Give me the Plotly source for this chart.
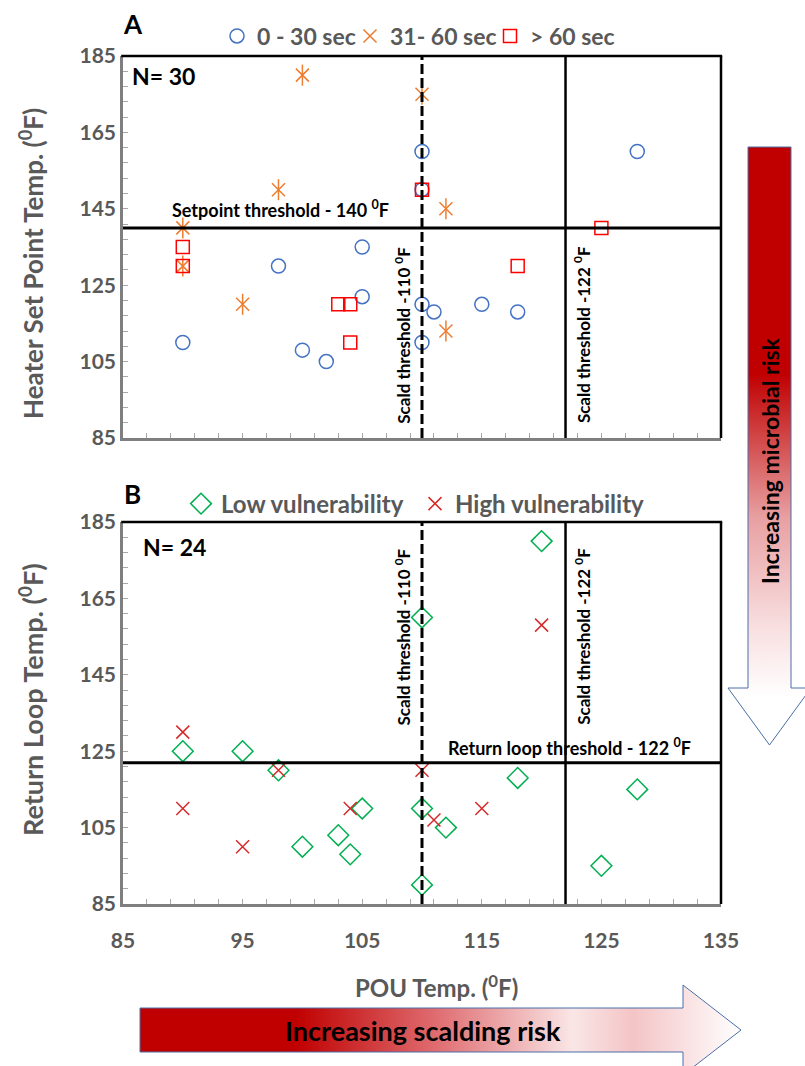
import plotly.graph_objects as go

# ---------------- data ----------------
# Panel A: POU temp (x) vs heater set point temp (y), grouped by time-to-temperature
a_fast_x = [90, 98, 100, 102, 105, 105, 110, 110, 110, 111, 110, 115, 118, 128]
a_fast_y = [110, 130, 108, 105, 135, 122, 160, 150, 120, 118, 110, 120, 118, 160]
a_mid_x = [90, 90, 95, 98, 100, 110, 112, 112]
a_mid_y = [140, 130, 120, 150, 180, 175, 145, 113]
a_slow_x = [90, 90, 103, 104, 104, 110, 118, 125]
a_slow_y = [135, 130, 120, 120, 110, 150, 130, 140]

# Panel B: POU temp (x) vs return loop temp (y), grouped by vulnerability
b_low_x = [90, 95, 98, 100, 103, 104, 105, 110, 110, 110, 112, 118, 120, 125, 128]
b_low_y = [125, 125, 120, 100, 103, 98, 110, 160, 110, 90, 105, 118, 180, 95, 115]
b_high_x = [90, 90, 95, 98, 104, 110, 111, 115, 120]
b_high_y = [130, 110, 100, 120, 110, 120, 107, 110, 158]

series_a_names = ["0 - 30 sec", "31- 60 sec", "> 60 sec"]
series_b_names = ["Low vulnerability", "High vulnerability"]

x_range = [85, 135]
y_range = [85, 185]
x_tick_vals = [85, 95, 105, 115, 125, 135]
y_tick_vals = [85, 105, 125, 145, 165, 185]

scald_low = 110
scald_high = 122
setpoint_thr = 140
return_thr = 122

# ---------------- styling ----------------
W, H = 805, 1066
FONT = "Lato"
GRAY = "#595959"
AXIS_GRAY = "#7F7F7F"

def px_x(p):
    return p / W

def px_y(p):
    return 1 - p / H

fig = go.Figure()

# Panel A traces
fig.add_trace(go.Scatter(x=a_fast_x, y=a_fast_y, mode="markers", name=series_a_names[0],
                         marker=dict(symbol="circle-open", size=14, color="#4472C4", line=dict(width=1.5)),
                         xaxis="x", yaxis="y", legend="legend"))
fig.add_trace(go.Scatter(x=a_mid_x, y=a_mid_y, mode="markers", name=series_a_names[1],
                         marker=dict(symbol="x-thin-open", size=13, color="#ED7D31", line=dict(width=1.5, color="#ED7D31")),
                         xaxis="x", yaxis="y", legend="legend2", legendgroup="mid"))
fig.add_trace(go.Scatter(x=a_mid_x, y=a_mid_y, mode="markers", name=series_a_names[1], showlegend=False,
                         marker=dict(symbol="line-ns-open", size=15, color="#ED7D31", line=dict(width=1.5, color="#ED7D31")),
                         xaxis="x", yaxis="y", legend="legend2", legendgroup="mid"))
fig.add_trace(go.Scatter(x=a_slow_x, y=a_slow_y, mode="markers", name=series_a_names[2],
                         marker=dict(symbol="square-open", size=13, color="#FF0000", line=dict(width=1.5)),
                         xaxis="x", yaxis="y", legend="legend3"))

# Panel B traces
fig.add_trace(go.Scatter(x=b_low_x, y=b_low_y, mode="markers", name=series_b_names[0],
                         marker=dict(symbol="diamond-open", size=16, color="#00B050", line=dict(width=1.5)),
                         xaxis="x2", yaxis="y2", legend="legend4"))
fig.add_trace(go.Scatter(x=b_high_x, y=b_high_y, mode="markers", name=series_b_names[1],
                         marker=dict(symbol="x-thin-open", size=13, color="#D62A2A", line=dict(width=1.5, color="#D62A2A")),
                         xaxis="x2", yaxis="y2", legend="legend5"))

# Decorative gradient arrows (pixel-space overlay axis)
fig.add_trace(go.Scatter(
    x=[748, 791, 791, 811, 769.5, 728, 748, 748],
    y=[147, 147, 688, 688, 745, 688, 688, 147],
    mode="lines", fill="toself", line=dict(color="#4A6FA8", width=1),
    fillgradient=dict(type="vertical", start=147, stop=745,
                      colorscale=[[0, "#C00000"], [0.38, "#C00000"], [0.62, "#E8A0A2"],
                                  [0.8, "#F8DEDF"], [0.92, "#FFFFFF"], [1, "#FFFFFF"]]),
    xaxis="x3", yaxis="y3", showlegend=False, hoverinfo="skip"))
fig.add_trace(go.Scatter(
    x=[140, 683, 683, 741, 683, 683, 140, 140],
    y=[1008, 1008, 985, 1030, 1075, 1052, 1052, 1008],
    mode="lines", fill="toself", line=dict(color="#4A6FA8", width=1),
    fillgradient=dict(type="horizontal", start=140, stop=741,
                      colorscale=[[0, "#C00000"], [0.26, "#C00000"], [0.5, "#E07074"],
                                  [0.72, "#FAE6E6"], [0.82, "#F4C4C6"], [1, "#FFFFFF"]]),
    xaxis="x3", yaxis="y3", showlegend=False, hoverinfo="skip"))

tickfont = dict(family=FONT, size=21, color=GRAY, weight="bold")

def xaxis_cfg(anchor, show_labels):
    return dict(domain=[px_x(123), px_x(721)], range=x_range, anchor=anchor,
                tickmode="array", tickvals=x_tick_vals, showticklabels=show_labels,
                ticks="inside", ticklen=5, tickwidth=1, tickcolor="#A6A6A6",
                minor=dict(dtick=2, tick0=85, ticks="inside", ticklen=5, tickwidth=1,
                           tickcolor="#A6A6A6", showgrid=False),
                showline=True, linecolor=AXIS_GRAY, linewidth=2.5, automargin=False,
                showgrid=False, zeroline=False, tickfont=tickfont, ticklabelstandoff=16)

def yaxis_cfg(anchor, dom):
    return dict(domain=dom, range=y_range, anchor=anchor,
                tickmode="array", tickvals=y_tick_vals,
                ticks="inside", ticklen=5, tickwidth=1, tickcolor="#A6A6A6",
                minor=dict(dtick=4, tick0=85, ticks="inside", ticklen=5, tickwidth=1,
                           tickcolor="#A6A6A6", showgrid=False),
                showline=True, linecolor=AXIS_GRAY, linewidth=2.5, automargin=False,
                showgrid=False, zeroline=False, tickfont=tickfont, ticklabelstandoff=0)

shapes = []
for xr, yr in [("x", "y"), ("x2", "y2")]:
    # top and right black borders
    shapes.append(dict(type="line", xref=f"{xr} domain", yref=f"{yr} domain",
                       x0=-0.003, x1=1.002, y0=1, y1=1, line=dict(color="black", width=2.5)))
    shapes.append(dict(type="line", xref=f"{xr} domain", yref=f"{yr} domain",
                       x0=1, x1=1, y0=0, y1=1, line=dict(color="black", width=2.5)))
    # scald thresholds
    shapes.append(dict(type="line", xref=xr, yref=f"{yr} domain",
                       x0=scald_low, x1=scald_low, y0=0, y1=1,
                       line=dict(color="black", width=3, dash="10px,4px")))
    shapes.append(dict(type="line", xref=xr, yref=f"{yr} domain",
                       x0=scald_high, x1=scald_high, y0=0, y1=1,
                       line=dict(color="black", width=2.5)))
shapes.append(dict(type="line", xref="x domain", yref="y", x0=0, x1=1,
                   y0=setpoint_thr, y1=setpoint_thr, line=dict(color="black", width=3)))
shapes.append(dict(type="line", xref="x2 domain", yref="y2", x0=0, x1=1,
                   y0=return_thr, y1=return_thr, line=dict(color="black", width=3)))

h_font = dict(family=FONT, size=18, color="black", weight="bold")
v_font = dict(family=FONT, size=17, color="black", weight="bold")
annotations = [
    dict(text="Setpoint threshold - 140 <sup>0</sup>F", xref="x", yref="y", x=98.2, y=144.9,
         showarrow=False, font=h_font, xanchor="center", yanchor="middle"),
    dict(text="Return loop threshold - 122 <sup>0</sup>F", xref="x2", yref="y2", x=122.3, y=126.1,
         showarrow=False, font=h_font, xanchor="center", yanchor="middle"),
    dict(text="Scald threshold -110 <sup>0</sup>F", xref="x", yref="y", x=108.4, y=112,
         showarrow=False, font=v_font, textangle=-90, xanchor="center", yanchor="middle"),
    dict(text="Scald threshold -122 <sup>0</sup>F", xref="x", yref="y", x=123.4, y=112,
         showarrow=False, font=v_font, textangle=-90, xanchor="center", yanchor="middle"),
    dict(text="Scald threshold -110 <sup>0</sup>F", xref="x2", yref="y2", x=108.4, y=155,
         showarrow=False, font=v_font, textangle=-90, xanchor="center", yanchor="middle"),
    dict(text="Scald threshold -122 <sup>0</sup>F", xref="x2", yref="y2", x=123.4, y=155,
         showarrow=False, font=v_font, textangle=-90, xanchor="center", yanchor="middle"),
    dict(text="N= 30", xref="x", yref="y", x=85.6, y=179.8, xanchor="left", yanchor="middle",
         showarrow=False, font=dict(family=FONT, size=23, color="black", weight="bold")),
    dict(text="N= 24", xref="x2", yref="y2", x=86.5, y=178.5, xanchor="left", yanchor="middle",
         showarrow=False, font=dict(family=FONT, size=23, color="black", weight="bold")),
    dict(text="A", xref="paper", yref="paper", x=px_x(121), y=px_y(24), xanchor="left", yanchor="middle",
         showarrow=False, font=dict(family=FONT, size=26, color="black", weight="bold")),
    dict(text="B", xref="paper", yref="paper", x=px_x(122), y=px_y(494), xanchor="left", yanchor="middle",
         showarrow=False, font=dict(family=FONT, size=26, color="black", weight="bold")),
    dict(text="Heater Set Point Temp. (<sup>0</sup>F)", xref="paper", yref="paper",
         x=px_x(31), y=px_y(264), textangle=-90, showarrow=False, xanchor="center", yanchor="middle",
         font=dict(family=FONT, size=26, color=GRAY, weight="bold")),
    dict(text="Return Loop Temp. (<sup>0</sup>F)", xref="paper", yref="paper",
         x=px_x(31), y=px_y(700), textangle=-90, showarrow=False, xanchor="center", yanchor="middle",
         font=dict(family=FONT, size=27, color=GRAY, weight="bold")),
    dict(text="POU Temp. (<sup>0</sup>F)", xref="paper", yref="paper",
         x=px_x(436), y=px_y(986), showarrow=False, xanchor="center", yanchor="middle",
         font=dict(family=FONT, size=24, color=GRAY, weight="bold")),
    dict(text="Increasing microbial risk", xref="paper", yref="paper",
         x=px_x(770), y=px_y(461), textangle=-90, showarrow=False, xanchor="center", yanchor="middle",
         font=dict(family=FONT, size=23, color="black", weight="bold")),
    dict(text="Increasing scalding risk", xref="paper", yref="paper",
         x=px_x(423), y=px_y(1030), showarrow=False, xanchor="center", yanchor="middle",
         font=dict(family=FONT, size=27, color="black", weight="bold")),
]

leg_a_font = dict(family=FONT, size=23, color=GRAY, weight="bold")
leg_b_font = dict(family=FONT, size=24, color=GRAY, weight="bold")

def leg(xpix, ypix, font):
    return dict(orientation="h", x=px_x(xpix), y=px_y(ypix), xanchor="left", yanchor="middle",
                font=font, bgcolor="rgba(0,0,0,0)", itemwidth=30, borderwidth=0)

fig.update_layout(
    width=W, height=H,
    margin=dict(l=0, r=0, t=0, b=0, pad=0, autoexpand=False),
    paper_bgcolor="white", plot_bgcolor="rgba(0,0,0,0)",
    xaxis=xaxis_cfg("y", False),
    yaxis=yaxis_cfg("x", [px_y(438), px_y(56)]),
    xaxis2=xaxis_cfg("y2", True),
    yaxis2=yaxis_cfg("x2", [px_y(904), px_y(522)]),
    xaxis3=dict(domain=[0, 1], range=[0, W], anchor="y3", visible=False, fixedrange=True),
    yaxis3=dict(domain=[0, 1], range=[H, 0], anchor="x3", visible=False, fixedrange=True),
    legend=leg(217, 36, leg_a_font),
    legend2=leg(350, 36, leg_a_font),
    legend3=leg(490, 36, leg_a_font),
    legend4=leg(181, 504, leg_b_font),
    legend5=leg(415, 504, leg_b_font),
    shapes=shapes,
    annotations=annotations,
    showlegend=True,
)

fig.write_html("out.html", config={"displayModeBar": False},
               post_script="document.body.style.margin='0px';")
